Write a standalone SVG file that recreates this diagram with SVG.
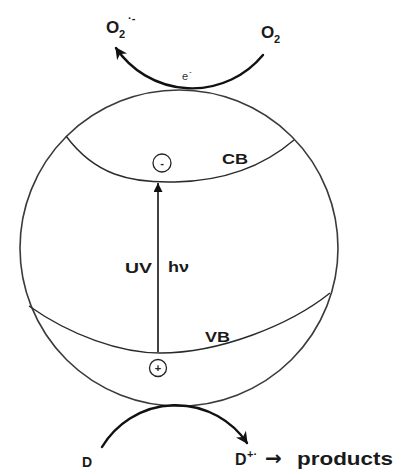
<svg xmlns="http://www.w3.org/2000/svg" width="394" height="470" viewBox="0 0 394 470">
<defs>
<style>
.sph{fill:none;stroke:#3a3a3a;stroke-width:1.6}
.band{fill:none;stroke:#2a2a2a;stroke-width:1.4}
.arc{fill:none;stroke:#111;stroke-width:2.4;stroke-linecap:round}
.lbl{font-family:"Liberation Sans",Arial,sans-serif;font-weight:bold;fill:#1a1a1a}
.chg{fill:#fff;stroke:#222;stroke-width:1.3}
.sym{font-family:"Liberation Sans",Arial,sans-serif;font-weight:bold;font-size:11px;fill:#222;text-anchor:middle}
</style>
<marker id="curvehead" viewBox="0 0 10 10" refX="9" refY="5" markerWidth="15" markerHeight="12" markerUnits="userSpaceOnUse" orient="auto">
<path d="M0,0 L10,5 L0,10 L3,5 z" fill="#111"/>
</marker>
<marker id="uphead" viewBox="0 0 10 10" refX="10" refY="5" markerWidth="14" markerHeight="9" markerUnits="userSpaceOnUse" orient="auto">
<path d="M0,0 L10,5 L0,10 z" fill="#111"/>
</marker>
</defs>
<rect width="394" height="470" fill="#fff"/>

<g id="particle">
<ellipse class="sph" cx="179" cy="248" rx="159" ry="158"/>
</g>

<g id="conduction-band">
<path class="band" d="M66,136 C95,175 130,183 175,182 C225,181 265,165 294,140"/>
<text class="lbl" x="222" y="164" font-size="15" textLength="26" lengthAdjust="spacingAndGlyphs">CB</text>
</g>

<g id="valence-band">
<path class="band" d="M29,306 C70,335 120,353 160,353 C220,353 290,325 330,293"/>
<text class="lbl" x="205" y="342" font-size="15" textLength="25" lengthAdjust="spacingAndGlyphs">VB</text>
</g>

<g id="electron">
<circle class="chg" cx="162" cy="163" r="9"/>
<text class="sym" x="162" y="167">-</text>
</g>

<g id="hole">
<circle class="chg" cx="158" cy="368" r="8.5"/>
<text class="sym" x="158" y="372">+</text>
</g>

<g id="labels">
<text class="lbl" x="125" y="273" font-size="15" textLength="27" lengthAdjust="spacingAndGlyphs">UV</text>
<text class="lbl" x="168" y="272" font-size="14" textLength="21" lengthAdjust="spacingAndGlyphs">hν</text>
<text class="lbl" x="106" y="33" font-size="17">O</text>
<text class="lbl" x="119" y="38" font-size="11">2</text>
<text class="lbl" x="128" y="22" font-size="11">·-</text>
<text class="lbl" x="261" y="38" font-size="17">O</text>
<text class="lbl" x="274" y="43" font-size="11">2</text>
<text class="lbl" x="182" y="80" font-size="11" style="font-weight:normal;fill:#333">e</text>
<text class="lbl" x="189" y="74" font-size="8" style="font-weight:normal;fill:#333">-</text>
<text class="lbl" x="82" y="467" font-size="14">D</text>
<text class="lbl" x="235" y="465" font-size="16">D</text>
<text class="lbl" x="247" y="458" font-size="11">+·</text>
<text class="lbl" x="265" y="465" font-size="20" style="font-family:'DejaVu Sans',sans-serif">→</text>
<text class="lbl" x="297" y="465" font-size="19" textLength="96" lengthAdjust="spacingAndGlyphs">products</text>
</g>

<g id="connectors">
<line x1="158" y1="352" x2="158" y2="183" stroke="#111" stroke-width="1.6" marker-end="url(#uphead)"/>
<path class="arc" d="M263,55 A92,92 0 0 1 116,48" marker-end="url(#curvehead)"/>
<path class="arc" d="M102,447 A86,86 0 0 1 247,443" stroke-width="2.2" marker-end="url(#curvehead)"/>
</g>
</svg>
